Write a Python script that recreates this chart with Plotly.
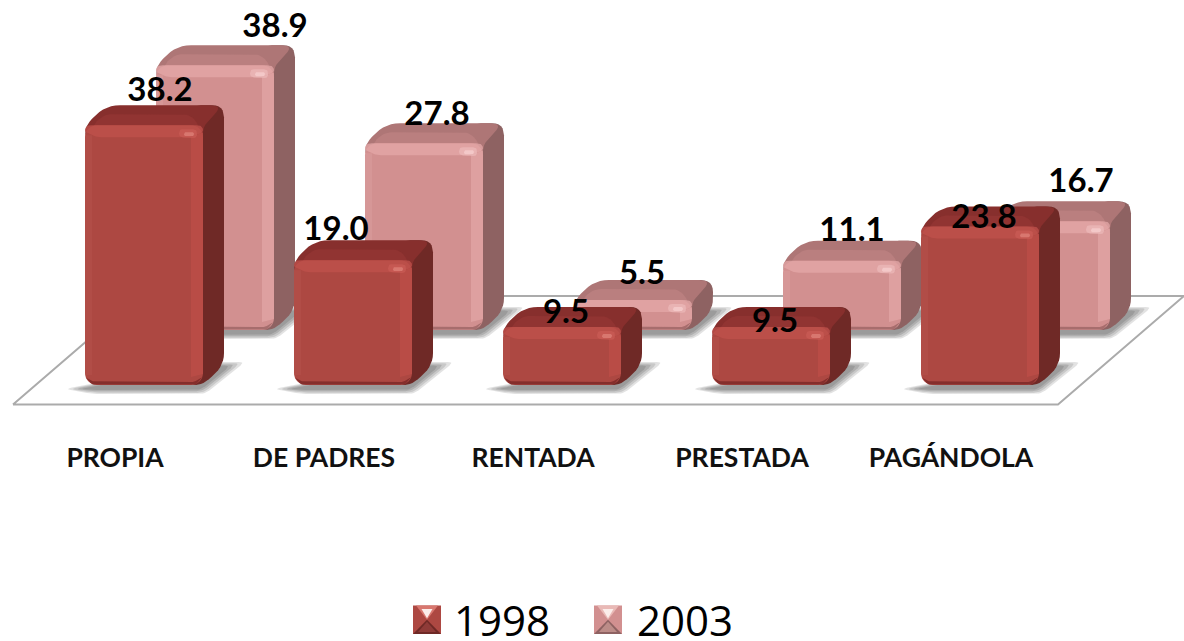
import plotly.graph_objects as go

categories = ["PROPIA", "DE PADRES", "RENTADA", "PRESTADA", "PAGÁNDOLA"]
values_1998 = [38.2, 19.0, 9.5, 9.5, 23.8]
values_2003 = [38.9, 27.8, 5.5, 11.1, 16.7]
years = ["1998", "2003"]

# label nudges relative to the top of each bar's front face (pixels)
nudge_1998 = [(16, -32), (-17, -28), (4, -12), (4, -3), (4, -7)]
nudge_2003 = [(60, -37), (13, -27), (9, -24), (10, -28), (30, -38)]

W, H = 1184, 641
PX, PY = 209.0, 7.03      # pixels per category / per value unit
BASE = 1.24               # value at the floor contact line
BAR_W = 118 / PX
DX, DY = 21 / PX, 20 / PY
FRONT_X0, FRONT_Y0 = 144, 385
BACK_X0, BACK_Y0 = 215, 330


def xr(x0):
    return [(0 - x0) / PX, (W - x0) / PX]


def yr(y0):
    return [BASE - (H - y0) / PY, BASE + y0 / PY]


def round_poly(pts, r):
    """Round polygon corners; works in pixel space, returns data space."""
    p = [(a * PX, b * PY) for a, b in pts]
    n = len(p)
    out = []
    for i in range(n):
        a, b, c = p[i - 1], p[i], p[(i + 1) % n]
        def toward(u, v):
            d = ((v[0] - u[0]) ** 2 + (v[1] - u[1]) ** 2) ** 0.5
            t = min(r, d / 2) / d if d else 0
            return (u[0] + (v[0] - u[0]) * t, u[1] + (v[1] - u[1]) * t)
        s, e = toward(b, a), toward(b, c)
        for k in range(7):
            t = k / 6
            out.append(((1 - t) ** 2 * s[0] + 2 * t * (1 - t) * b[0] + t * t * e[0],
                        (1 - t) ** 2 * s[1] + 2 * t * (1 - t) * b[1] + t * t * e[1]))
    return [q[0] / PX for q in out], [q[1] / PY for q in out]


def poly(fig, pts, color, ax, r=0):
    if r:
        xs, ys = round_poly(pts, r)
    else:
        xs, ys = [q[0] for q in pts], [q[1] for q in pts]
    fig.add_trace(go.Scatter(x=list(xs) + [xs[0]], y=list(ys) + [ys[0]], mode="lines",
                             line=dict(width=0), fill="toself", fillcolor=color,
                             hoverinfo="skip", showlegend=False, xaxis=ax[0], yaxis=ax[1]))


LAYER_BACK_DEPTH = ("x", "y")
LAYER_BACK_FACE = ("x2", "y2")
LAYER_FRONT_DEPTH = ("x3", "y3")
LAYER_FRONT_FACE = ("x4", "y4")

fig = go.Figure()

# floor, placed with the back axes
def bx(px): return (px - BACK_X0) / PX
def by(py): return BASE + (BACK_Y0 - py) / PY
floor_x = [bx(13), bx(1058), bx(1184), bx(1184), bx(139), bx(13)]
floor_y = [by(404.5), by(404.5), by(296), by(296), by(296), by(404.5)]
fig.add_trace(go.Scatter(x=floor_x, y=floor_y, mode="lines", line=dict(color="#ABABAB", width=2),
                         hoverinfo="skip", showlegend=False))


def shadow(i, v, layer):
    x0, x1 = i - BAR_W / 2, i + BAR_W / 2
    for inset, col in ((0, "rgba(140,140,140,0.25)"), (3, "rgba(140,140,140,0.3)"),
                       (6, "rgba(130,130,130,0.35)"), (9, "rgba(125,125,125,0.4)")):
        a = inset * 1.6 / PX
        b = inset / PY
        pts = [(x0 - 20 / PX + a, BASE - 4 / PY), (x0 + 8 / PX, BASE - 9 / PY + b * 0.45),
               (x1 + 2 / PX - a * 0.3, BASE - 9 / PY + b * 0.45),
               (x1 + 42 / PX - a, BASE + 23 / PY - b * 0.4), (x1, BASE + 23 / PY - b * 0.4)]
        poly(fig, pts, col, layer, r=6)


def depth(i, v, st, layer):
    x0, x1 = i - BAR_W / 2, i + BAR_W / 2
    inner_x, inner_y = 14 / PX, 14 / PY
    poly(fig, [(x1 - inner_x, BASE), (x1, BASE), (x1 + DX, BASE + DY), (x1 + DX, v + DY), (x1 - inner_x, v + DY)],
         st["side"], layer, r=12)
    poly(fig, [(x0, v - inner_y), (x0, v), (x0 + DX, v + DY), (x1 + DX, v + DY), (x1, v), (x1, v - inner_y)],
         st["top"], layer, r=14)
    # brighter part of the top face next to the front face
    poly(fig, [(x0 + 8 / PX, v - inner_y), (x0 + 8 / PX, v + 1 / PY), (x0 + 20 / PX, v + 11 / PY),
               (x1 - 14 / PX, v + 11 / PY), (x1 - 4 / PX, v + 1 / PY), (x1 - 4 / PX, v - inner_y)],
         st["hi"], layer, r=7)


def bevel(i, v, st, layer):
    x0, x1 = i - BAR_W / 2, i + BAR_W / 2
    b = 12 / PX
    h = 12 / PY
    # soft edge bands on the front face, reaching the outer edge
    poly(fig, [(x0, BASE + 10 / PY), (x0 + 7 / PX, BASE + 10 / PY), (x0 + 7 / PX, v - 10 / PY), (x0, v - 10 / PY)], st["left"], layer)
    poly(fig, [(x1 - b, BASE + 8 / PY), (x1, BASE + 11 / PY), (x1, v - 7 / PY), (x1 - b, v - h)], st["right"], layer)
    poly(fig, [(x0, v - 3 / PY), (x0 + 3 / PX, v), (x1 - 3 / PX, v), (x1, v - 3 / PY), (x1, v - 7 / PY), (x1 - b, v - h), (x0 + b, v - h), (x0, v - 7 / PY)],
         st["light"], layer, r=4)
    poly(fig, [(x0 + 7 / PX, BASE + 0.5 / PY), (x1 - 7 / PX, BASE + 0.5 / PY), (x1 - 0.5 / PX, BASE + 8 / PY),
               (x1 - 9 / PX, BASE + 3 / PY), (x0 + 9 / PX, BASE + 3 / PY), (x0 + 0.5 / PX, BASE + 8 / PY)], st["dark"], layer, r=2)
    poly(fig, [(x1 - 24 / PX, v - 4 / PY), (x1 - 6 / PX, v - 4 / PY), (x1 - 6 / PX, v - 13 / PY), (x1 - 24 / PX, v - 12 / PY)],
         st["glow"], layer, r=4)
    poly(fig, [(x1 - 19 / PX, v - 7 / PY), (x1 - 9 / PX, v - 7 / PY), (x1 - 9 / PX, v - 11 / PY), (x1 - 19 / PX, v - 11 / PY)],
         st["spec"], layer, r=2)


STYLE_1998 = dict(face="#AD4842", side="#6F2926", top="#872F2D", hi="#913432", light="rgba(192,82,76,0.75)",
                  left="rgba(190,90,84,0.3)", right="rgba(190,78,72,0.75)",
                  dark="rgba(110,32,32,0.65)", glow="rgba(205,95,88,0.6)", spec="#D8776F")
STYLE_2003 = dict(face="#D29090", side="#8E6262", top="#AE7676", hi="#BA7F7F", light="rgba(228,168,168,0.75)",
                  left="rgba(224,170,170,0.3)", right="rgba(226,166,166,0.75)",
                  dark="rgba(145,90,90,0.65)", glow="rgba(238,190,190,0.6)", spec="#F3C8C8")

# back series
for i, v in enumerate(values_2003):
    shadow(i, v, LAYER_BACK_DEPTH)
    depth(i, v, STYLE_2003, LAYER_BACK_DEPTH)
fig.add_trace(go.Bar(x=list(range(5)), y=[v - BASE for v in values_2003], base=BASE, width=BAR_W,
                     marker=dict(color=STYLE_2003["face"], line=dict(width=0)), name=years[1],
                     showlegend=False, xaxis="x2", yaxis="y2"))
for i, v in enumerate(values_2003):
    bevel(i, v, STYLE_2003, LAYER_BACK_FACE)
fig.add_trace(go.Scatter(x=[i + n[0] / PX for i, n in enumerate(nudge_2003)],
                         y=[v - n[1] / PY for v, n in zip(values_2003, nudge_2003)],
                         text=[f"{v:.1f}" for v in values_2003], mode="text", textposition="middle center",
                         textfont=dict(family="Lato", size=33, color="#000000", weight="bold"),
                         hoverinfo="skip", showlegend=False, xaxis="x2", yaxis="y2"))

# front series
for i, v in enumerate(values_1998):
    shadow(i, v, LAYER_FRONT_DEPTH)
    depth(i, v, STYLE_1998, LAYER_FRONT_DEPTH)
fig.add_trace(go.Bar(x=list(range(5)), y=[v - BASE for v in values_1998], base=BASE, width=BAR_W,
                     marker=dict(color=STYLE_1998["face"], line=dict(width=0)), name=years[0],
                     showlegend=False, xaxis="x4", yaxis="y4"))
for i, v in enumerate(values_1998):
    bevel(i, v, STYLE_1998, LAYER_FRONT_FACE)
fig.add_trace(go.Scatter(x=[i + n[0] / PX for i, n in enumerate(nudge_1998)],
                         y=[v - n[1] / PY for v, n in zip(values_1998, nudge_1998)],
                         text=[f"{v:.1f}" for v in values_1998], mode="text", textposition="middle center",
                         textfont=dict(family="Lato", size=33, color="#000000", weight="bold"),
                         hoverinfo="skip", showlegend=False, xaxis="x4", yaxis="y4"))


# legend swatches drawn on the front axes; the legend carries the names
def fx(px): return (px - FRONT_X0) / PX
def fy(py): return BASE + (FRONT_Y0 - py) / PY


def swatch(x0, st, mid, low):
    l, r, t, b = fx(x0), fx(x0 + 28), fy(605.5), fy(634)
    cx, cy = (l + r) / 2, (t + b) / 2
    ix, iy = 5 / PX, 5 / PY
    poly(fig, [(l, t), (r, t), (r, b), (l, b)], st["face"], LAYER_FRONT_FACE)
    poly(fig, [(l + ix * 0.6, t), (r - ix * 0.6, t), (cx, cy)], mid, LAYER_FRONT_FACE)
    poly(fig, [(l + ix * 1.7, t - iy * 0.7), (r - ix * 1.7, t - iy * 0.7), (cx, cy + iy * 0.3)], "#FBEDEA", LAYER_FRONT_FACE)
    poly(fig, [(l, b), (r, b), (cx, cy)], st["side"], LAYER_FRONT_FACE)
    poly(fig, [(l + ix, b + iy * 0.4), (r - ix, b + iy * 0.4), (cx, cy - iy * 0.4)], low, LAYER_FRONT_FACE)


swatch(413, STYLE_1998, "#D8776F", "#8F3B38")
swatch(594, STYLE_2003, "#E9B9B6", "#BC8C88")
for name in years:
    fig.add_trace(go.Scatter(x=[None], y=[None], mode="markers", name=name,
                             marker=dict(color="rgba(0,0,0,0)", size=1), xaxis="x4", yaxis="y4"))

hidden = dict(visible=False, fixedrange=True, domain=[0, 1])
fig.update_layout(
    width=W, height=H, margin=dict(l=0, r=0, t=0, b=0, pad=0, autoexpand=False),
    paper_bgcolor="#FFFFFF", plot_bgcolor="rgba(0,0,0,0)", barcornerradius=12,
    xaxis=dict(range=xr(BACK_X0), **hidden), yaxis=dict(range=yr(BACK_Y0), **hidden),
    xaxis2=dict(range=xr(BACK_X0), anchor="y2", **hidden), yaxis2=dict(range=yr(BACK_Y0), anchor="x2", **hidden),
    xaxis3=dict(range=xr(FRONT_X0), anchor="y3", **hidden), yaxis3=dict(range=yr(FRONT_Y0), anchor="x3", **hidden),
    xaxis4=dict(range=xr(FRONT_X0), domain=[0, 1], anchor="free", position=(H - 439) / H, fixedrange=True,
                tickmode="array", tickvals=list(range(5)), ticktext=categories, ticks="", showline=False,
                showgrid=False, zeroline=False, ticklabelshift=-29, tickangle=0,
                tickfont=dict(family="Lato", size=26.5, color="#111111", weight="bold")),
    yaxis4=dict(range=yr(FRONT_Y0), anchor="x4", **hidden),
    showlegend=True,
    legend=dict(orientation="h", x=(414 / W), xanchor="left", y=1 - 620 / H, yanchor="middle",
                entrywidth=138, entrywidthmode="pixels", itemwidth=30,
                font=dict(family="Open Sans", size=42, color="#000000"),
                itemclick=False, itemdoubleclick=False, bgcolor="rgba(0,0,0,0)", borderwidth=0),
)

fig.write_html("out.html", config=dict(displayModeBar=False),
               post_script="document.body.style.margin='0';")
